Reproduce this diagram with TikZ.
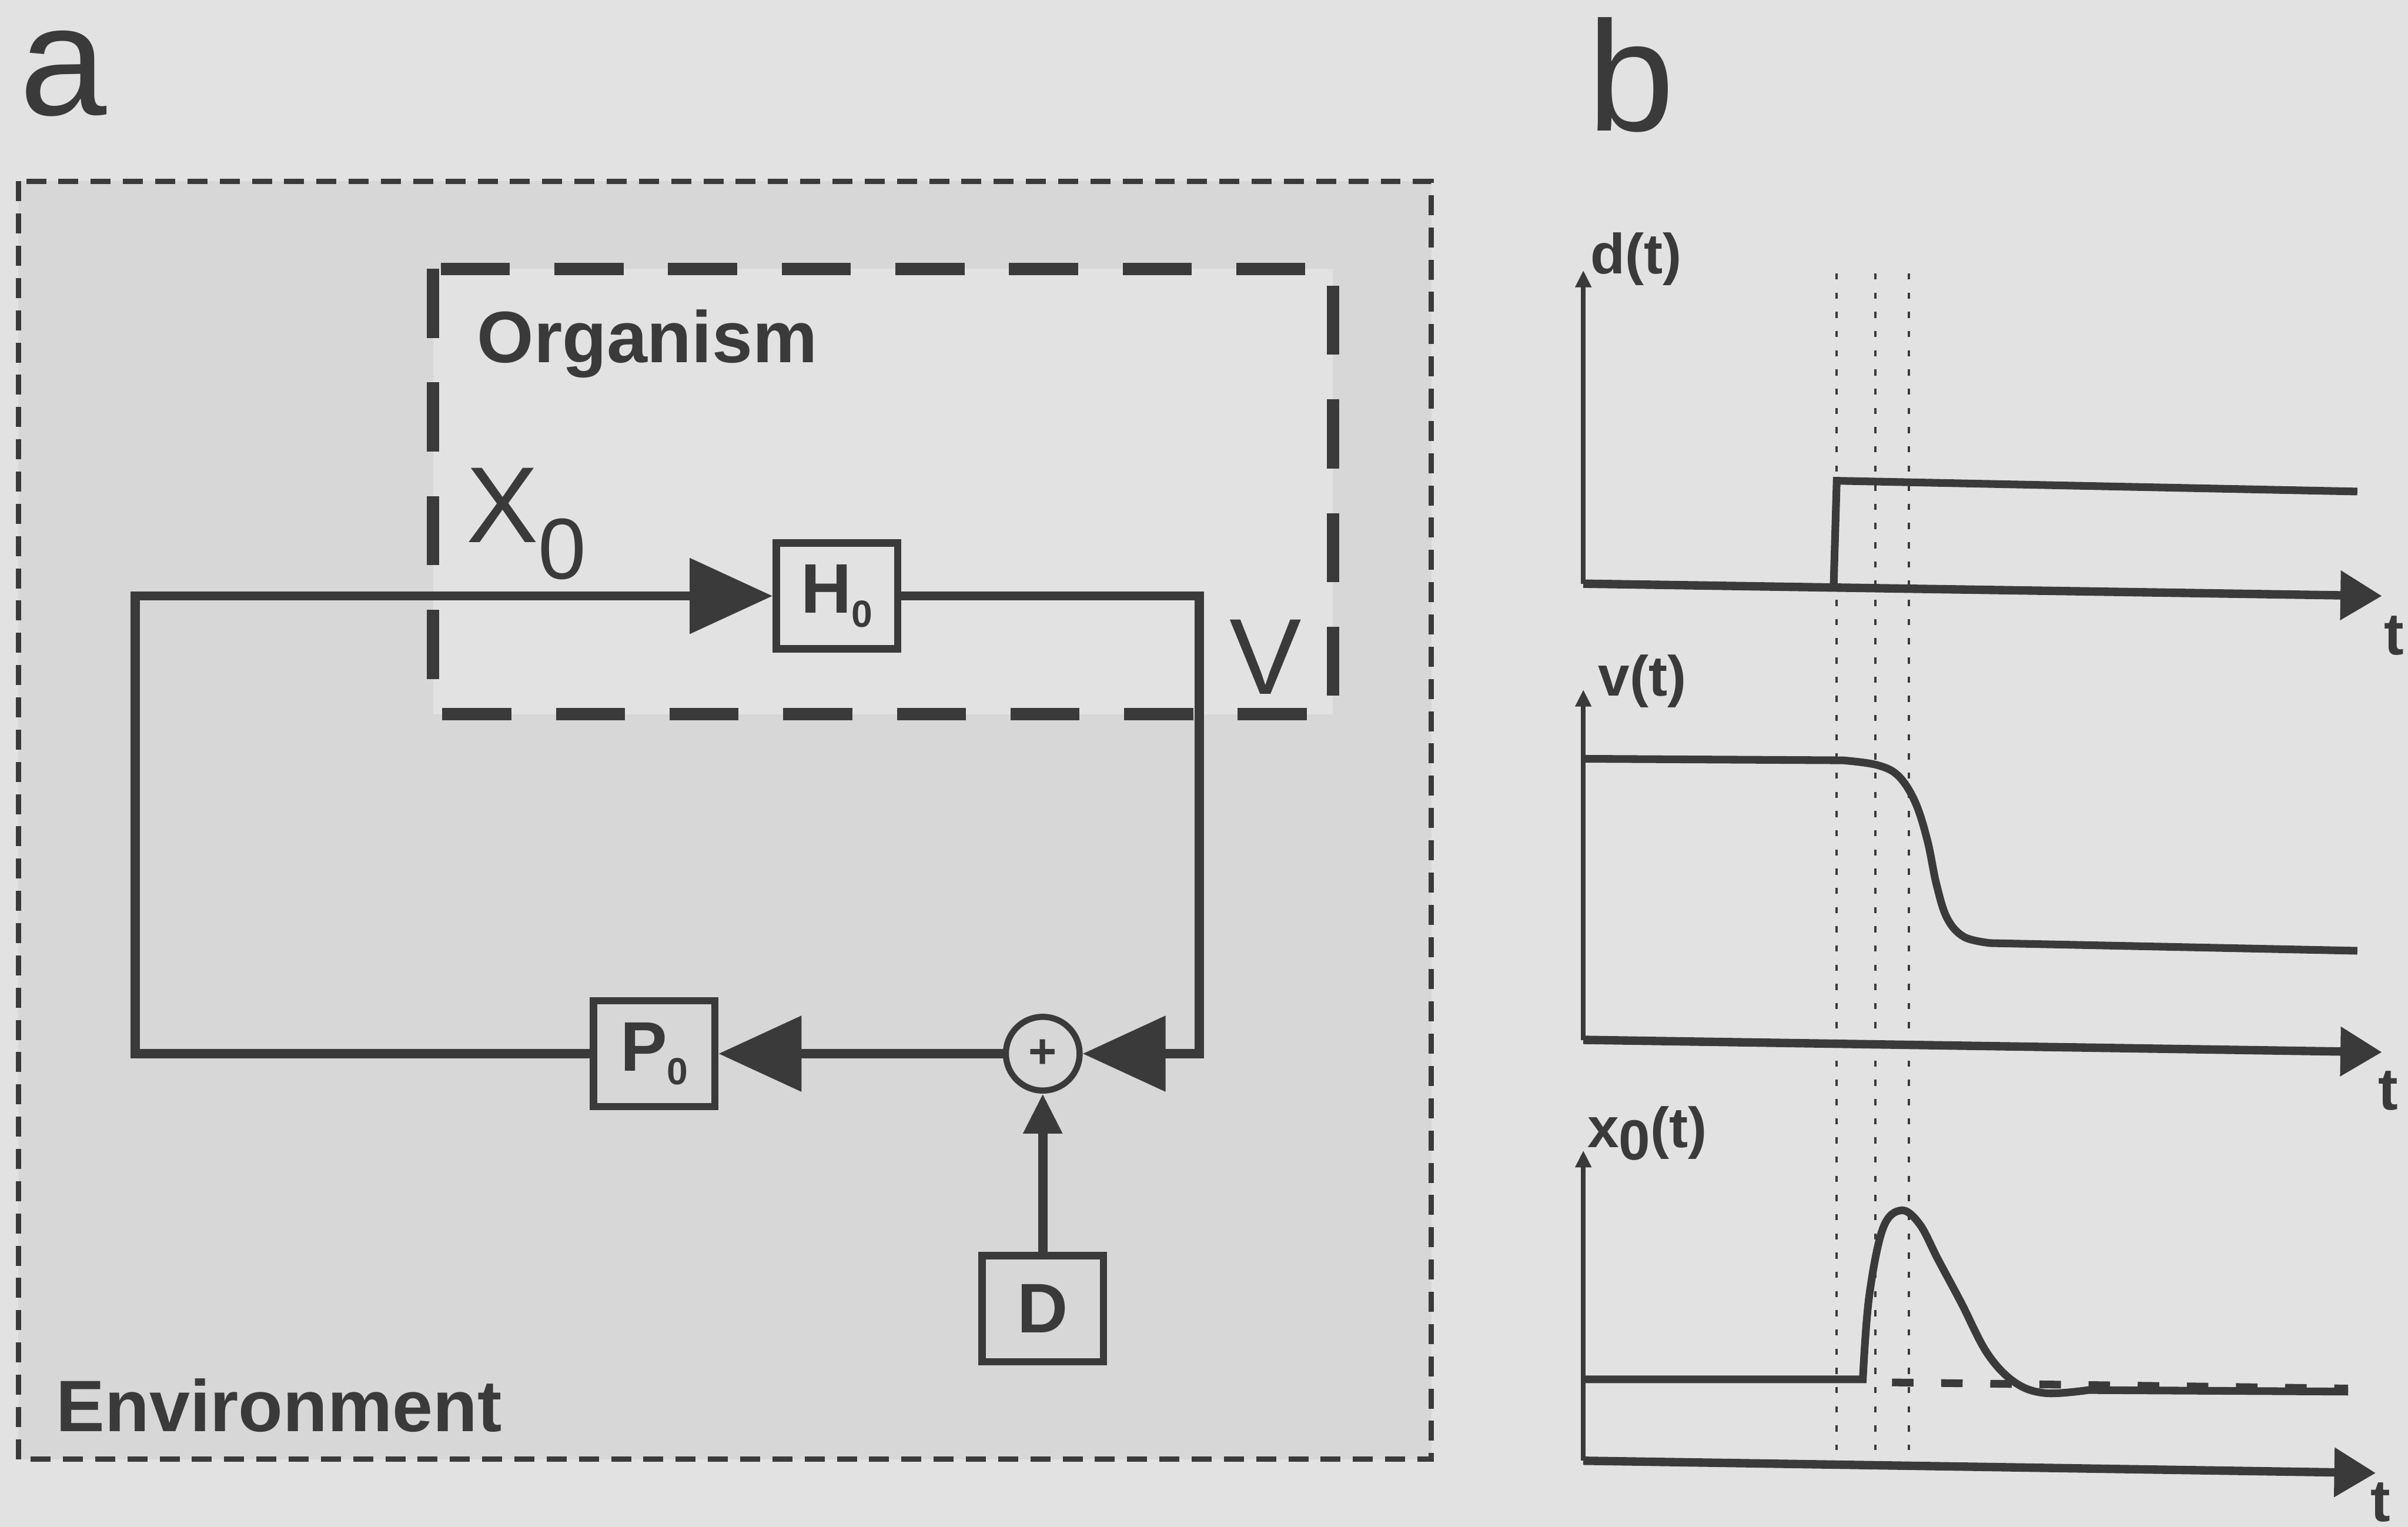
\documentclass[tikz,border=0pt]{standalone}
\usepackage{fontspec}
\setmainfont{Liberation Sans}
\usetikzlibrary{arrows.meta}
\definecolor{ink}{RGB}{58,58,58}
\definecolor{paper}{RGB}{226,226,226}
\definecolor{envgray}{RGB}{215,215,215}
\newcommand{\fsz}[1]{\fontsize{#1}{#1}\selectfont}

\begin{document}
\begin{tikzpicture}[x=0.1mm,y=-0.1mm,
    block/.style={draw=ink,line width=0.48mm,minimum width=7.9mm,minimum height=6.9mm,inner sep=0pt,text=ink,font=\fsz{13}\bfseries},
    sumnode/.style={circle,draw=ink,line width=0.4mm,minimum size=4.8mm,inner sep=0pt,text=ink,font=\fsz{9}\bfseries},
    flow/.style={draw=ink,line width=0.6mm},
    bigtip/.style={-{Triangle[length=5.4mm,width=4.8mm]}},
    smalltip/.style={-{Triangle[length=2.6mm,width=2.4mm]}},
    envbox/.style={draw=ink,fill=envgray,line width=0.35mm,dash pattern=on 1.3mm off 0.8mm},
    orgbox/.style={draw=ink,fill=paper,line width=0.8mm,dash pattern=on 4.5mm off 2.9mm},
    boxlabel/.style={text=ink,font=\fsz{13.5}\bfseries,inner sep=0pt},
    varlabel/.style={text=ink,font=\fsz{20},inner sep=0pt},
    panel/.style={text=ink,font=\fsz{29},inner sep=0pt,text height=5.5mm},
    yaxis/.style={draw=ink,line width=0.3mm,-{Triangle[length=1.1mm,width=1mm]}},
    xaxis/.style={draw=ink,line width=0.55mm,-{Triangle[length=2.7mm,width=3.1mm]}},
    trace/.style={draw=ink,line width=0.5mm},
    guide/.style={draw=ink,line width=0.15mm,dash pattern=on 0.4mm off 0.85mm},
    plotlab/.style={text=ink,font=\fsz{10.5}\bfseries,inner sep=0pt},
    tlab/.style={text=ink,font=\fsz{11}\bfseries,inner sep=0pt}]

    \fill[paper] (0,0) rectangle (1568,994);
    \useasboundingbox (0,0) rectangle (1568,994);

    % panel a
    \node[panel,anchor=base west] (pa) at (12,75) {a};
    \draw[envbox] (12,118) rectangle (932,950);
    \draw[orgbox] (282,175) rectangle (868,465);
    \node[boxlabel,anchor=base west] (org) at (310,236) {Organism};
    \node[boxlabel,anchor=base west] (env) at (36,932) {Environment};

    \node[block] (h0) at (545,388) {H\raisebox{-0.9mm}{\fsz{7}0}};
    \node[block] (p0) at (426,686) {P\raisebox{-0.9mm}{\fsz{7}0}};
    \node[block] (d) at (679,852) {D};
    \node[sumnode] (sum) at (679,686) {+};

    \coordinate (lt) at (88,388);
    \coordinate (lb) at (88,686);
    \coordinate (rt) at (781,388);
    \coordinate (rb) at (781,686);

    \draw[flow,bigtip] (p0.west) -- (lb) -- (lt) -- (h0.west);
    \draw[flow,bigtip] (h0.east) -- (rt) -- (rb) -- (sum.east);
    \draw[flow,bigtip] (sum.west) -- (p0.east);
    \draw[flow,smalltip] (d.north) -- (sum.south);

    \node[varlabel,anchor=base west] (x0) at (303,353) {X\raisebox{-2.4mm}{\fsz{16}0}};
    \node[varlabel,anchor=base west] (v) at (800,452) {V};

    % panel b
    \node[panel,anchor=base west,text height=7.2mm] (pb) at (1033,85) {b};
    \foreach \x in {1196,1221,1243}
        \draw[guide] (\x,178) -- (\x,944);

    % d(t)
    \draw[yaxis] (1031,380) -- (1031,176);
    \draw[xaxis] (1031,380) -- (1551,388);
    \node[plotlab,anchor=base west] (dlab) at (1035,178) {d(t)};
    \node[tlab] (t1) at (1559,414) {t};
    \draw[trace] (1194,381) -- (1196,313) -- (1535,320);

    % v(t)
    \draw[yaxis] (1031,677) -- (1031,449);
    \draw[xaxis] (1031,677) -- (1551,685);
    \node[plotlab,anchor=base west] (vlab) at (1040,453) {v(t)};
    \node[tlab] (t2) at (1555,710) {t};
    \draw[trace] (1031,494) -- plot[smooth,tension=0.6] coordinates {(1200,495) (1222,498) (1236,505) (1247,522) (1255,547) (1261,576) (1268,598) (1279,610) (1296,614)} -- (1535,619);

    % x0(t)
    \draw[yaxis] (1031,951) -- (1031,749);
    \draw[xaxis] (1031,951) -- (1547,959);
    \node[plotlab,anchor=base west] (xlab) at (1033,747) {x\raisebox{-0.8mm}{0}(t)};
    \node[tlab] (t3) at (1550,978) {t};
    \draw[trace,dash pattern=on 1.4mm off 1.8mm] (1232,900) -- (1529,904);
    \draw[trace] (1031,898) -- plot[smooth,tension=0.6] coordinates {(1213,898) (1217,845) (1226,800) (1238,788) (1250,797) (1262,820) (1277,848) (1294,881) (1312,900) (1332,907) (1360,905)} -- (1529,906);
\end{tikzpicture}
\end{document}
